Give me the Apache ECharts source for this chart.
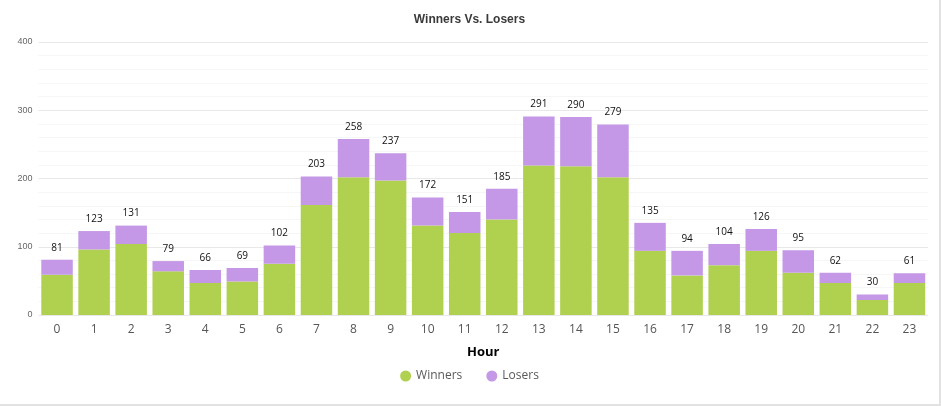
<!DOCTYPE html>
<html>
<head>
<meta charset="utf-8">
<script src="https://cdn.jsdelivr.net/npm/echarts@6/dist/echarts.min.js"></script>
<style>
html,body{margin:0;padding:0;background:#fff;}
#wrap{width:939px;height:404px;border-right:2px solid #e2e2e2;border-bottom:2px solid #e2e2e2;}
#chart{width:939px;height:404px;}
</style>
</head>
<body>
<div id="wrap"><div id="chart"></div></div>
<script>
const hours = ['0','1','2','3','4','5','6','7','8','9','10','11','12','13','14','15','16','17','18','19','20','21','22','23'];
const totals = [81,123,131,79,66,69,102,203,258,237,172,151,185,291,290,279,135,94,104,126,95,62,30,61];
const winners = [59,96,104,64,47,49,75,161,202,197,131,120,140,219,218,202,94,58,73,94,62,47,22,47];
const losers = totals.map((t,i)=>t-winners[i]);
const yTicks = [0,100,200,300,400];

const chart = echarts.init(document.getElementById('chart'));
chart.setOption({
  animation:false,
  title:{text:'Winners Vs. Losers',left:'center',top:9,textStyle:{fontFamily:'Liberation Sans',fontSize:12,fontWeight:'bold',color:'#3a3a3a'}},
  legend:{bottom:17,left:'center',icon:'circle',itemWidth:11,itemHeight:11,itemGap:24,
    textStyle:{fontFamily:'Open Sans',fontSize:12,color:'#5a5a5a'},data:['Winners','Losers']},
  grid:{left:38.5,right:11,top:42,bottom:89,containLabel:false},
  xAxis:{type:'category',data:hours,name:'Hour',nameLocation:'middle',nameGap:31,
    nameTextStyle:{fontFamily:'Open Sans',fontSize:13,fontWeight:'bold',color:'#000'},
    axisLine:{show:false},axisTick:{show:false},
    axisLabel:{fontFamily:'Open Sans',fontSize:12,color:'#555',margin:9}},
  yAxis:{type:'value',min:yTicks[0],max:yTicks[yTicks.length-1],interval:100,
    axisLine:{show:false},axisTick:{show:false},
    axisLabel:{fontFamily:'Liberation Sans',fontSize:9,color:'#666',margin:6},
    splitLine:{lineStyle:{color:'#e8e8e8',width:1}},
    minorTick:{show:false,splitNumber:5},
    minorSplitLine:{show:true,lineStyle:{color:'#f6f6f6',width:1}}},
  series:[
    {name:'Winners',type:'bar',stack:'a',data:winners,barCategoryGap:'15%',
      itemStyle:{color:'#b0d04f'}},
    {name:'Losers',type:'bar',stack:'a',data:losers,barCategoryGap:'15%',
      itemStyle:{color:'#c498e6'},
      label:{show:true,position:'top',distance:7,fontFamily:'Open Sans',fontSize:10,color:'#111',
        formatter:p=>totals[p.dataIndex]}}
  ]
});
</script>
</body>
</html>
